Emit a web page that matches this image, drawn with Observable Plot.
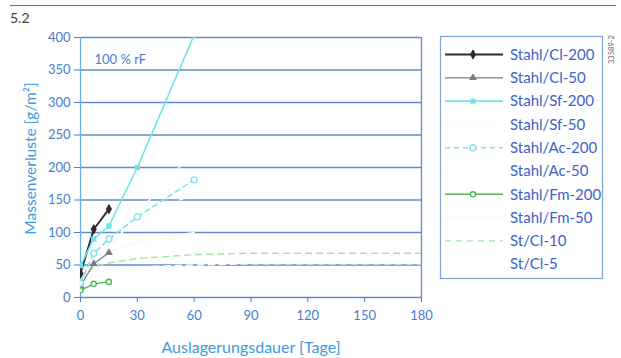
<!DOCTYPE html>
<html><head><meta charset="utf-8">
<script src="https://cdn.jsdelivr.net/npm/d3@7"></script>
<script src="https://cdn.jsdelivr.net/npm/@observablehq/plot@0.6"></script>
<style>
body{margin:0;background:#fff;}
#wrap{position:relative;width:621px;height:358px;overflow:hidden;font-family:Lato,"DejaVu Sans Condensed",sans-serif;}
#wrap svg{position:absolute;left:0;top:0;}
#topline{position:absolute;left:10px;top:5px;width:606px;height:0;border-top:1.5px solid #3f72c4;}
#fig{position:absolute;left:10px;top:9px;font-size:14px;color:#444;}
#code{position:absolute;left:607px;top:64px;font-size:7.5px;color:#666;white-space:nowrap;transform:rotate(-90deg);transform-origin:0 0;}
</style></head><body>
<div id="wrap"><div id="topline"></div><div id="fig">5.2</div><div id="code">33589-2</div></div>
<script>
// ---- data ----
const seriesNames = ["Stahl/Cl-200","Stahl/Cl-50","Stahl/Sf-200","Stahl/Sf-50","Stahl/Ac-200","Stahl/Ac-50","Stahl/Fm-200","Stahl/Fm-50","St/Cl-10","St/Cl-5"];
const cl200Days = [0, 7, 15];          const cl200Loss = [37, 105, 136];
const cl50Days  = [0, 7, 15];          const cl50Loss  = [18, 52, 69];
const sf200Days = [0, 7, 15, 30, 60];  const sf200Loss = [49, 90, 110, 200, 404];
const sf50Days  = [0, 7, 15, 30, 60];  const sf50Loss  = [20, 50, 75, 130, 225];
const ac200Days = [0, 7, 15, 30, 60];  const ac200Loss = [22, 68, 90, 124, 181];
const ac50Days  = [0, 7, 15, 30, 60];  const ac50Loss  = [18, 55, 80, 120, 160];
const fm200Days = [0, 7, 15];          const fm200Loss = [11, 21, 24];
const fm50Days  = [0, 7, 15, 30, 60];  const fm50Loss  = [15, 45, 70, 85, 100];
const stcl10Days = [0, 7, 15, 30, 60, 90, 180]; const stcl10Loss = [28, 47, 53, 60, 66, 68, 68];
const stcl5Days  = [0, 7, 15, 30, 60, 90, 180]; const stcl5Loss  = [20, 35, 42, 47, 50, 52, 52];
const xTicks = [0, 30, 60, 90, 120, 150, 180];
const yTicks = [0, 50, 100, 150, 200, 250, 300, 350, 400];

const allDays = [cl200Days, cl50Days, sf200Days, sf50Days, ac200Days, ac50Days, fm200Days, fm50Days, stcl10Days, stcl5Days];
const allLoss = [cl200Loss, cl50Loss, sf200Loss, sf50Loss, ac200Loss, ac50Loss, fm200Loss, fm50Loss, stcl10Loss, stcl5Loss];

// ---- styles ----
const styles = [
  {stroke:"#2b2b2f", width:1.9, dash:null, symbol:"diamond", r:2.4, fill:"#2b2b2f"},
  {stroke:"#7a7a80", width:1.2, dash:null, symbol:"triangle", r:2.0, fill:"#7a7a80"},
  {stroke:"#6fe3ea", width:1.6, dash:null, symbol:"square", r:2.2, fill:"#6fe3ea"},
  {stroke:"#f6fdfd", width:1.6, dash:null, symbol:null},
  {stroke:"#86e2ec", width:1.6, dash:"5,4", symbol:"circle", r:3.0, fill:"white"},
  {stroke:"#f7fcfc", width:1.6, dash:"5,4", symbol:null},
  {stroke:"#55b455", width:1.4, dash:null, symbol:"circle", r:2.6, fill:"white"},
  {stroke:"#f7fbf7", width:1.6, dash:null, symbol:null},
  {stroke:"#a6e3a6", width:1.4, dash:"6,5", symbol:null},
  {stroke:"#f7f9fc", width:1.6, dash:"6,5", symbol:null}
];

const rows = [];
seriesNames.forEach((s, i) => allDays[i].forEach((d, j) => rows.push({series: s, day: d, loss: allLoss[i][j]})));

const font = 'Lato,"DejaVu Sans Condensed",sans-serif';
const grid = "#5f8bd0", tickCol = "#4a7cd0", titleCol = "#3f9ae2", legendText = "#3f62c9";

const marks = [
  Plot.ruleY(yTicks, {stroke: grid, strokeWidth: 1.3}),
  Plot.ruleX([180], {stroke: grid, strokeWidth: 1.3}),
  Plot.ruleX([0], {stroke: "#6aaee8", strokeWidth: 1.3})
];
const order = [3,5,7,9,8,0,1,4,2,6];
order.forEach(i => {
  const st = styles[i];
  const data = rows.filter(r => r.series === seriesNames[i]);
  marks.push(Plot.line(data, {x: "day", y: "loss", stroke: st.stroke, strokeWidth: st.width, strokeDasharray: st.dash, clip: true}));
  if (st.symbol) marks.push(Plot.dot(data, {x: "day", y: "loss", symbol: st.symbol, r: st.r, fill: st.fill, stroke: st.stroke, strokeWidth: 1.4, clip: true}));
});
marks.push(
  Plot.axisY({ticks: yTicks, tickSize: 6, tickPadding: 4, fontSize: 13, color: tickCol, label: null}),
  Plot.axisX({ticks: xTicks, tickSize: 5, tickPadding: 8, fontSize: 13, color: tickCol, label: null}),
  Plot.text(["Massenverluste [g/m²]"], {frameAnchor: "left", textAnchor: "middle", dx: -49, dy: -9, rotate: -90, fill: titleCol, fontSize: 15.5}),
  Plot.text(["Auslagerungsdauer [Tage]"], {frameAnchor: "bottom", textAnchor: "middle", dy: 55, fill: titleCol, fontSize: 16}),
  Plot.text(["100 % rF"], {frameAnchor: "top-left", dx: 14, dy: 17, textAnchor: "start", fill: tickCol, fontSize: 13})
);

const chart = Plot.plot({
  width: 621, height: 358,
  marginLeft: 80, marginRight: 200, marginTop: 37, marginBottom: 61,
  style: {fontFamily: font, background: "transparent"},
  x: {domain: [0, 180]},
  y: {domain: [0, 400]},
  marks
});
document.getElementById("wrap").appendChild(chart);

// ---- legend ----
const lg = d3.select("#wrap").append("svg").attr("width", 621).attr("height", 358);
lg.append("rect").attr("x", 440.5).attr("y", 36.5).attr("width", 162).attr("height", 242)
  .attr("fill", "none").attr("stroke", "#7ea6dc").attr("stroke-width", 1.2);
const symMap = {diamond: d3.symbolDiamond, triangle: d3.symbolTriangle, square: d3.symbolSquare, circle: d3.symbolCircle};
seriesNames.forEach((s, i) => {
  const st = styles[i], y = 54.5 + i * 23.3;
  const g = lg.append("g");
  g.append("line").attr("x1", 445).attr("x2", 503).attr("y1", y).attr("y2", y)
    .attr("stroke", st.stroke).attr("stroke-width", st.width).attr("stroke-dasharray", st.dash);
  if (st.symbol) g.append("path").attr("d", d3.symbol(symMap[st.symbol], Math.PI * st.r * st.r)())
    .attr("transform", `translate(473,${y})`).attr("fill", st.fill).attr("stroke", st.stroke).attr("stroke-width", 1.4);
  g.append("text").attr("x", 510).attr("y", y).attr("dy", "0.35em").attr("fill", legendText)
    .attr("font-size", 15).attr("font-family", font).text(s);
});
</script>
</body></html>
